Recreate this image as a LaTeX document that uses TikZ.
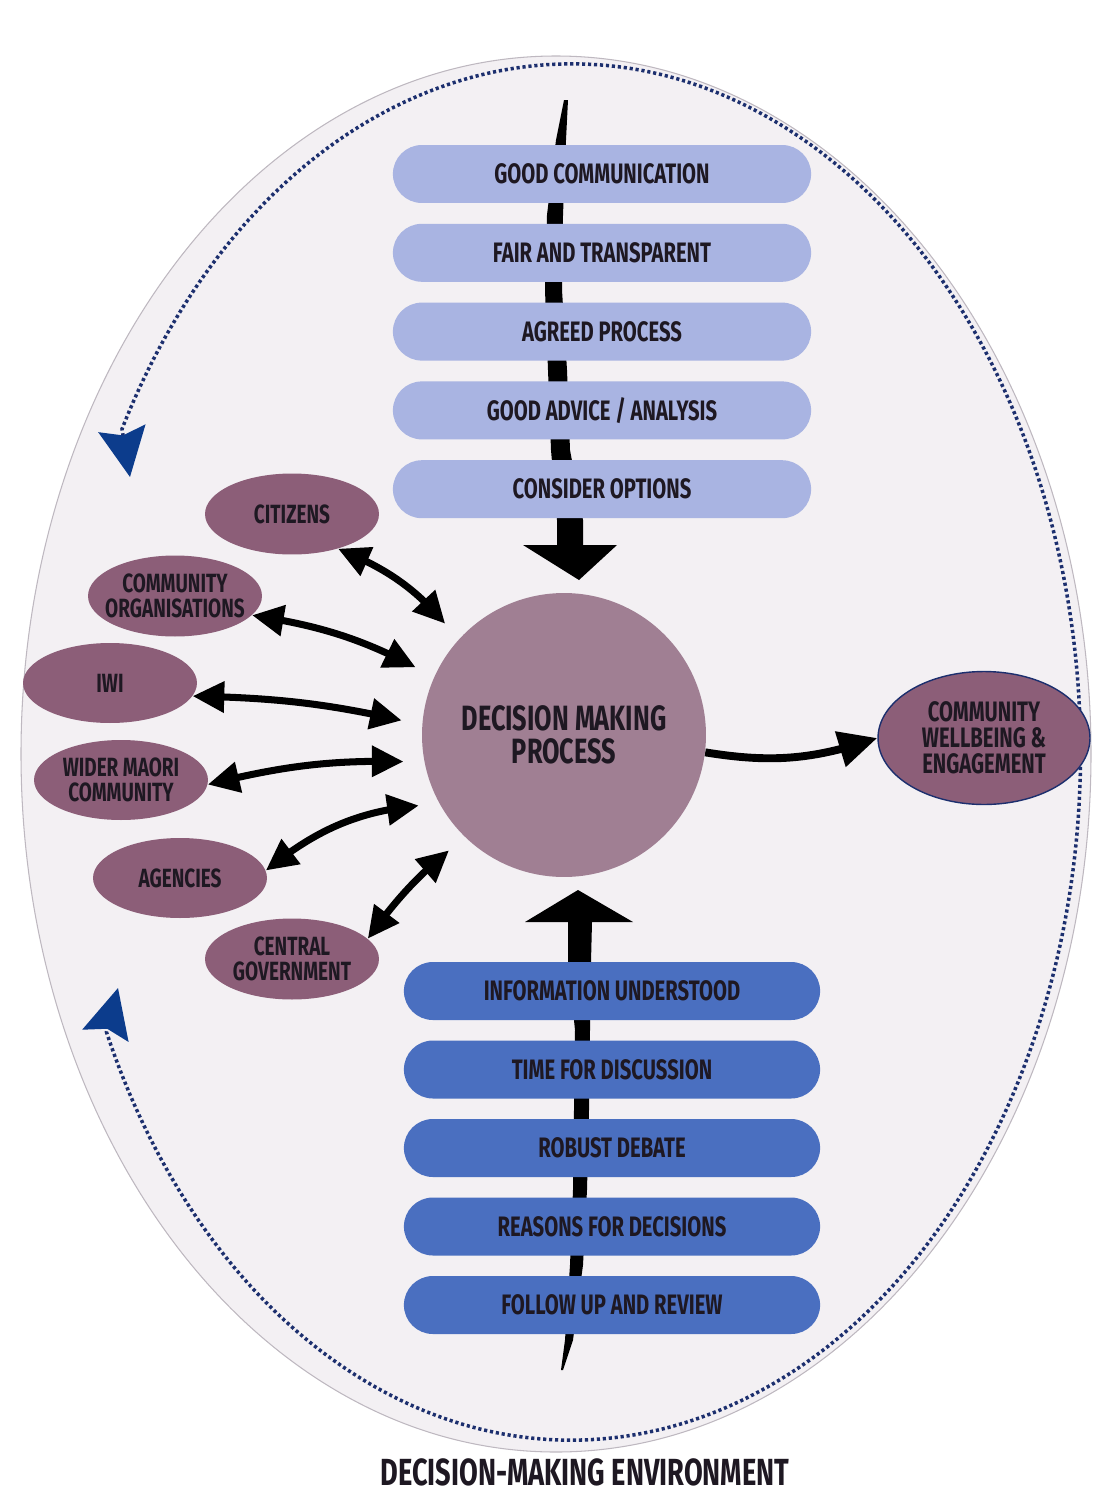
\documentclass[tikz,border=0pt]{standalone}
\usepackage{fontspec}
\newfontfamily\diagfont{Fira Sans}[FakeStretch=0.72]
\usetikzlibrary{arrows.meta,bending,shapes.geometric,shapes.misc}
\definecolor{envfill}{RGB}{243,240,243}
\definecolor{envline}{RGB}{190,184,192}
\definecolor{loopblue}{RGB}{28,47,110}
\definecolor{tipblue}{RGB}{12,60,140}
\definecolor{toplav}{RGB}{169,180,226}
\definecolor{lowblue}{RGB}{74,111,192}
\definecolor{dmpfill}{RGB}{160,127,147}
\definecolor{partyfill}{RGB}{140,94,120}
\definecolor{inktext}{RGB}{30,24,34}
\begin{document}
\begin{tikzpicture}[x=0.02cm,y=0.02cm,
    every node/.style={text=inktext, align=center},
    topbox/.style={rounded rectangle, fill=toplav, minimum width=8.6cm, minimum height=1.16cm, font=\diagfont\bfseries\fontsize{16}{18}\selectfont},
    lowbox/.style={rounded rectangle, fill=lowblue, minimum width=8.56cm, minimum height=1.16cm, font=\diagfont\bfseries\fontsize{16}{18}\selectfont},
    party/.style={ellipse, fill=partyfill, minimum width=3.48cm, minimum height=1.62cm, inner sep=0pt},
    partytext/.style={font=\diagfont\bfseries\fontsize{15}{14}\selectfont},
    twoway/.style={line width=4pt, {Triangle[length=18pt,width=17pt]}-{Triangle[length=18pt,width=17pt]}, shorten >=0.42cm},
    loopline/.style={draw=loopblue, line width=2pt, dash pattern=on 1.8pt off 1.6pt}]
    \useasboundingbox (0,0) rectangle (1093,-1494);
    \filldraw[fill=envfill, draw=envline, line width=0.6pt] (556,-754) ellipse [x radius=535, y radius=698];
    \draw[loopline, {Stealth[length=28pt,width=27pt,inset=4pt,color=tipblue]}-{Stealth[length=28pt,width=27pt,inset=4pt,color=tipblue]}]
        (130,-477) -- (122,-429) arc[start angle=152, end angle=-156, x radius=509, y radius=688] -- (118,-988);
    \fill[black] (564,-100) -- (556,-140) -- (547,-215) -- (545,-290) -- (548,-370) -- (551,-450) -- (557,-520) -- (557,-545)
        -- (523,-545) -- (579,-580) -- (617,-545) -- (583,-545) -- (583,-520) -- (570,-450) -- (567,-370) -- (562,-290)
        -- (563,-215) -- (566,-140) -- (568,-100) -- cycle;
    \fill[black] (568,-922) -- (525,-922) -- (578,-890) -- (633,-922) -- (592,-922) -- (591,-962) -- (590,-1030) -- (589,-1110)
        -- (587,-1190) -- (583,-1265) -- (573,-1340) -- (563,-1370) -- (561,-1370) -- (565,-1340) -- (570,-1265) -- (573,-1190)
        -- (574,-1110) -- (575,-1030) -- (568,-962) -- cycle;
    \foreach \txt [count=\i] in {GOOD COMMUNICATION, FAIR AND TRANSPARENT, AGREED PROCESS, {GOOD ADVICE / ANALYSIS}, CONSIDER OPTIONS}
        \node[topbox] (top\i) at (602,{-174-78.8*(\i-1)}) {\txt};
    \foreach \txt [count=\i] in {INFORMATION UNDERSTOOD, TIME FOR DISCUSSION, ROBUST DEBATE, REASONS FOR DECISIONS, FOLLOW UP AND REVIEW}
        \node[lowbox] (low\i) at (612,{-991-78.5*(\i-1)}) {\txt};
    \node[circle, fill=dmpfill, minimum size=5.68cm, font=\diagfont\bfseries\fontsize{20}{19}\selectfont] (dmp) at (564,-735) {DECISION MAKING\\PROCESS};
    \node[party, label={[partytext]center:CITIZENS}] (cit) at (292,-514) {};
    \node[party, label={[partytext]center:COMMUNITY\\ORGANISATIONS}] (corg) at (175,-596) {};
    \node[party, minimum height=1.6cm, label={[partytext]center:IWI}] (iwi) at (110,-683) {};
    \node[party, minimum height=1.6cm, label={[partytext]center:WIDER MAORI\\COMMUNITY}] (wmc) at (121,-780) {};
    \node[party, minimum height=1.6cm, label={[partytext]center:AGENCIES}] (age) at (180,-878) {};
    \node[party, label={[partytext]center:CENTRAL\\GOVERNMENT}] (cgov) at (292,-959) {};
    \node[ellipse, fill=partyfill, draw=loopblue, line width=0.8pt, minimum width=4.24cm, minimum height=2.66cm, inner sep=0pt,
        label={[partytext, font=\diagfont\bfseries\fontsize{16}{14.7}\selectfont]center:COMMUNITY\\WELLBEING \&\\ENGAGEMENT}] (cwe) at (984,-738) {};
    \draw[twoway] (cit.-37) to[bend left=15] (dmp.138);
    \draw[twoway] (corg.-14) to[bend left=10] (dmp.156);
    \draw[twoway] (iwi.-9) to[bend left=6] (dmp.176);
    \draw[twoway] (wmc.-3) to[bend left=8] (dmp.191);
    \draw[twoway] (age.5) to[bend left=18] (dmp.209);
    \draw[twoway] (cgov.15) to[bend left=8] (dmp.226);
    \draw[line width=4.5pt, -{Triangle[length=22pt,width=20pt]}] (dmp.-7) to[bend right=14] (cwe.west);
    \node[font=\diagfont\bfseries\fontsize{21.5}{24}\selectfont] (env) at (585,-1472) {DECISION-MAKING ENVIRONMENT};
\end{tikzpicture}
\end{document}
